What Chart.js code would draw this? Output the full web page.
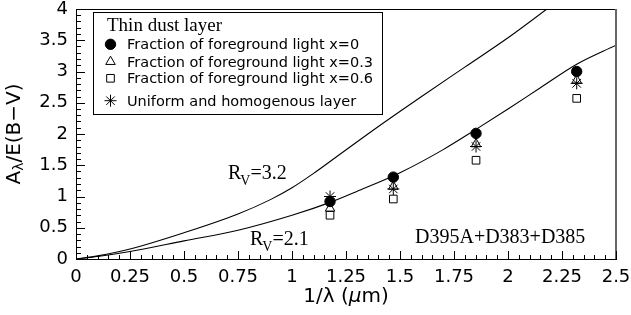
<!DOCTYPE html>
<html><head><meta charset="utf-8">
<script src="https://cdn.jsdelivr.net/npm/chart.js@4.4.1/dist/chart.umd.min.js"></script>
<style>html,body{margin:0;padding:0;background:#fff;overflow:hidden}#wrap{width:631px;height:315px}</style>
</head><body><div id="wrap"><canvas id="c" width="631" height="315"></canvas></div>
<script>
// ---- data ----
const invWavelength = [1.176, 1.469, 1.852, 2.318];
const fgX0 = [0.92, 1.31, 2.01, 3.00];
const fgX03 = [0.81, 1.16, 1.84, 2.86];
const fgX06 = [0.70, 0.96, 1.58, 2.57];
const uniformLayer = [1.00, 1.12, 1.80, 2.81];
const curveRv32X = [0, 0.1, 0.25, 0.5, 0.75, 0.9, 1.0, 1.1, 1.2, 1.4, 1.6, 1.8, 2.0, 2.18, 2.3];
const curveRv32Y = [0, 0.05, 0.16, 0.42, 0.72, 0.95, 1.14, 1.37, 1.62, 2.12, 2.60, 3.07, 3.54, 4.0, 4.32];
const curveRv21X = [0, 0.1, 0.25, 0.5, 0.75, 1.0, 1.18, 1.3, 1.5, 1.7, 1.85, 2.0, 2.15, 2.32, 2.5];
const curveRv21Y = [0, 0.04, 0.12, 0.29, 0.46, 0.70, 0.91, 1.08, 1.38, 1.75, 2.07, 2.40, 2.74, 3.12, 3.42];
const xTickValues = [0, 0.25, 0.5, 0.75, 1, 1.25, 1.5, 1.75, 2, 2.25, 2.5];
const xTickLabels = ['0', '0.25', '0.5', '0.75', '1', '1.25', '1.5', '1.75', '2', '2.25', '2.5'];
const yTickValues = [0, 0.5, 1, 1.5, 2, 2.5, 3, 3.5, 4];
const yTickLabels = ['0', '0.5', '1', '1.5', '2', '2.5', '3', '3.5', '4'];
const seriesLabels = ['Fraction of foreground light x=0', 'Fraction of foreground light x=0.3',
  'Fraction of foreground light x=0.6', 'Uniform and homogenous layer'];
const legendTitle = 'Thin dust layer';

const pairs = (xs, ys) => xs.map((x, i) => ({x: x, y: ys[i]}));

const markerStyles = [
  {pointStyle: 'circle', pointRadius: 5.2, backgroundColor: '#000', borderColor: '#000', borderWidth: 1},
  {pointStyle: 'triangle', pointRadius: 5.5, backgroundColor: 'rgba(0,0,0,0)', borderColor: '#000', borderWidth: 1},
  {pointStyle: 'rect', pointRadius: 5.4, backgroundColor: 'rgba(0,0,0,0)', borderColor: '#000', borderWidth: 1},
  {pointStyle: 'star', pointRadius: 6, backgroundColor: 'rgba(0,0,0,0)', borderColor: '#000', borderWidth: 1}
];
const seriesValues = [fgX0, fgX03, fgX06, uniformLayer];

const datasets = seriesValues.map((vals, i) => Object.assign({
  label: seriesLabels[i], data: pairs(invWavelength, vals), showLine: false,
  pointHoverRadius: 0
}, markerStyles[i]));
datasets.push({label: 'RV=3.2', data: pairs(curveRv32X, curveRv32Y), showLine: true, pointRadius: 0,
  borderColor: '#000', borderWidth: 1.1, cubicInterpolationMode: 'monotone', fill: false});
datasets.push({label: 'RV=2.1', data: pairs(curveRv21X, curveRv21Y), showLine: true, pointRadius: 0,
  borderColor: '#000', borderWidth: 1.1, cubicInterpolationMode: 'monotone', fill: false});

function drawMarker(ctx, style, x, y) {
  ctx.save();
  ctx.fillStyle = style.backgroundColor; ctx.strokeStyle = style.borderColor; ctx.lineWidth = style.borderWidth;
  Chart.helpers.drawPoint(ctx, {pointStyle: style.pointStyle, radius: style.pointRadius, borderWidth: style.borderWidth, rotation: 0}, x, y);
  ctx.restore();
}

const decorPlugin = {
  id: 'decor',
  afterDraw(chart) {
    const ctx = chart.ctx, a = chart.chartArea, xs = chart.scales.x, ys = chart.scales.y;
    ctx.save();
    // frame
    ctx.fillStyle = '#000';
    ctx.fillRect(Math.round(a.left), Math.round(a.top), Math.round(a.right - a.left), 1);
    ctx.fillStyle = '#666';
    ctx.fillRect(Math.round(a.right) - 1, Math.round(a.top), 2, Math.round(a.bottom - a.top));
    // inner ticks (pointing into the plot)
    ctx.fillStyle = '#000';
    const L = Math.round(a.left), B = Math.round(a.bottom);
    for (let k = 0; k <= 40; k++) {
      const py = Math.round(ys.getPixelForValue(k * 0.1));
      const len = (k % 5 === 0) ? 9 : 5;
      ctx.fillRect(L, py, len, 1);
    }
    for (let k = 0; k <= 50; k++) {
      const px = Math.round(xs.getPixelForValue(k * 0.05));
      const len = (k % 5 === 0) ? 8 : 4;
      ctx.fillRect(px, B - len, 1, len);
    }

    ctx.fillStyle = '#000';
    // y-axis title
    ctx.save();
    ctx.translate(20, (a.top + a.bottom) / 2);
    ctx.rotate(-Math.PI / 2);
    ctx.textBaseline = 'alphabetic'; ctx.textAlign = 'left';
    const fBig = '20px "DejaVu Sans"', fSub = '14px "DejaVu Sans"';
    ctx.font = fBig; const wA = ctx.measureText('A').width, wRest = ctx.measureText('/E(B\u2212V)').width;
    ctx.font = fSub; const wL = ctx.measureText('\u03bb').width;
    let x0 = -(wA + wL + wRest) / 2;
    ctx.font = fBig; ctx.fillText('A', x0, 0);
    ctx.font = fSub; ctx.fillText('\u03bb', x0 + wA, 3);
    ctx.font = fBig; ctx.fillText('/E(B\u2212V)', x0 + wA + wL, 0);
    ctx.restore();

    // x-axis title
    ctx.save();
    ctx.textBaseline = 'alphabetic'; ctx.textAlign = 'left';
    const p1 = '1/\u03bb (', p2 = '\u03bc', p3 = 'm)';
    ctx.font = '20px "DejaVu Sans"'; const w1 = ctx.measureText(p1).width, w3 = ctx.measureText(p3).width;
    ctx.font = 'italic 20px "DejaVu Sans"'; const w2 = ctx.measureText(p2).width;
    let tx = (a.left + a.right) / 2 - (w1 + w2 + w3) / 2;
    ctx.font = '20px "DejaVu Sans"'; ctx.fillText(p1, tx, 302);
    ctx.font = 'italic 20px "DejaVu Sans"'; ctx.fillText(p2, tx + w1, 302);
    ctx.font = '20px "DejaVu Sans"'; ctx.fillText(p3, tx + w1 + w2, 302);
    ctx.restore();

    // curve labels
    function rvLabel(text, x, y) {
      ctx.textBaseline = 'alphabetic'; ctx.textAlign = 'left';
      ctx.font = '20px "Liberation Serif"'; ctx.fillText('R', x, y);
      const wR = ctx.measureText('R').width;
      ctx.font = '14px "Liberation Serif"'; ctx.fillText('V', x + wR - 1, y + 6);
      const wV = ctx.measureText('V').width;
      ctx.font = '20px "Liberation Serif"'; ctx.fillText(text, x + wR - 1 + wV, y);
    }
    rvLabel('=3.2', 228, 179);
    rvLabel('=2.1', 250, 245);
    ctx.font = '20px "Liberation Serif"'; ctx.textAlign = 'left'; ctx.textBaseline = 'alphabetic';
    ctx.fillText('D395A+D383+D385', 415, 243);

    // legend box
    ctx.fillStyle = '#fff';
    ctx.fillRect(93.5, 12.5, 289, 102);
    ctx.strokeStyle = '#000'; ctx.lineWidth = 1;
    ctx.strokeRect(93.5, 12.5, 289, 102);
    ctx.fillStyle = '#000';
    ctx.font = '19px "Liberation Serif"'; ctx.fillText(legendTitle, 107, 30.5);
    const rowY = [44.3, 61.7, 78.3, 100.7];
    ctx.font = '14.5px "DejaVu Sans"';
    rowY.forEach((yy, i) => {
      drawMarker(ctx, markerStyles[i], 110.5, yy);
      ctx.fillStyle = '#000';
      ctx.fillText(seriesLabels[i], 127, yy + 5);
    });
    ctx.restore();
  }
};

new Chart(document.getElementById('c'), {
  type: 'scatter',
  data: {datasets: datasets},
  options: {
    responsive: false, animation: false, devicePixelRatio: 1,
    layout: {padding: {top: 9, right: 15, left: 0, bottom: 0}},
    plugins: {legend: {display: false}, tooltip: {enabled: false}},
    events: [],
    scales: {
      x: {
        type: 'linear', min: 0, max: 2.5, position: 'bottom',
        grid: {display: false, drawTicks: false},
        border: {display: true, color: '#000', width: 1},
        ticks: {color: '#000', font: {family: 'DejaVu Sans', size: 18}, padding: 8, maxRotation: 0, autoSkip: false,
          callback: (v, i) => xTickLabels[i]},
        afterBuildTicks: s => { s.ticks = xTickValues.map(v => ({value: v})); },
        afterFit: s => { s.height = 56; s.paddingLeft = 0; s.paddingRight = 0; }
      },
      y: {
        type: 'linear', min: 0, max: 4, position: 'left',
        grid: {display: false, drawTicks: false},
        border: {display: true, color: '#000', width: 1},
        ticks: {color: '#000', font: {family: 'DejaVu Sans', size: 18}, padding: 8, autoSkip: false,
          callback: (v, i) => yTickLabels[i]},
        afterBuildTicks: s => { s.ticks = yTickValues.map(v => ({value: v})); },
        afterFit: s => { s.width = 76; s.paddingTop = 0; s.paddingBottom = 0; }
      }
    }
  },
  plugins: [decorPlugin]
});
</script>
</body></html>
